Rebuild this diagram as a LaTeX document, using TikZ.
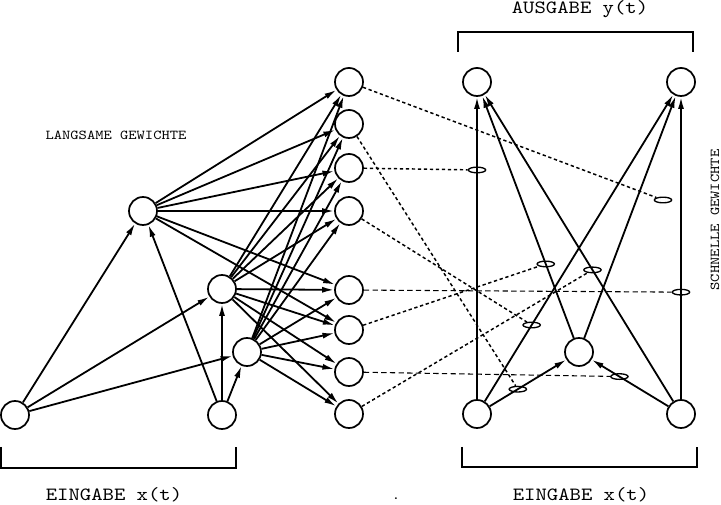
\documentclass[tikz,border=0pt]{standalone}
\usepackage{fontspec}
\setmonofont{lmmono10-regular.otf}[FakeStretch=1.16]
\usetikzlibrary{arrows.meta,shapes.geometric,calc}
\begin{document}
\begin{tikzpicture}[x=0.75pt,y=-0.75pt,
  neuron/.style={circle,draw,line width=1.3pt,minimum size=21pt,inner sep=0pt},
  conn/.style={line width=1.35pt,-{Latex[length=9pt,width=4.5pt]}},
  fw/.style={ellipse,draw,line width=1pt,minimum width=13pt,minimum height=4.2pt,inner sep=0pt},
  dotl/.style={line width=1.1pt,dash pattern=on 2.5pt off 2pt},
  dashl/.style={line width=0.8pt,dash pattern=on 4pt off 2.5pt},
  brack/.style={line width=0.8pt},
  big/.style={font=\ttfamily\fontsize{14}{16}\selectfont,inner sep=0pt},
  small/.style={font=\ttfamily\fontsize{10.2}{12}\selectfont,inner sep=0pt}]
\useasboundingbox (0,0) rectangle (721,505);

% left (slow) network
\node[neuron] (i1) at (15,415) {};
\node[neuron] (i2) at (222,415) {};
\node[neuron] (h1) at (143,211) {};
\node[neuron] (h2) at (222,289) {};
\node[neuron] (h3) at (247,352) {};
\node[neuron] (m1) at (349,82) {};
\node[neuron] (m2) at (349,124) {};
\node[neuron] (m3) at (349,168) {};
\node[neuron] (m4) at (349,211) {};
\node[neuron] (m5) at (349,290) {};
\node[neuron] (m6) at (349,330) {};
\node[neuron] (m7) at (349,372) {};
\node[neuron] (m8) at (349,414) {};

% right (fast) network
\node[neuron] (o1) at (477,82) {};
\node[neuron] (o2) at (681,82) {};
\node[neuron] (n1) at (477,414) {};
\node[neuron] (n2) at (681,414) {};
\node[neuron] (r) at (579,352) {};

% slow connections
\foreach \s in {i1,i2} {
  \draw[conn] (\s) -- (h1);
  \draw[conn] (\s) -- (h2);
  \draw[conn] (\s) -- (h3);
}
\foreach \i in {1,...,6} \draw[conn] (h1) -- (m\i);
\foreach \i in {1,...,8} {
  \draw[conn] (h2) -- (m\i);
  \draw[conn] (h3) -- (m\i);
}

% fast connections
\draw[conn] (n1) -- (o1);
\draw[conn] (n1) -- (o2);
\draw[conn] (n1) -- (r);
\draw[conn] (n2) -- (o1);
\draw[conn] (n2) -- (o2);
\draw[conn] (n2) -- (r);
\draw[conn] (r) -- (o1);
\draw[conn] (r) -- (o2);

% fast weights (ellipses)
\node[fw] (e1) at ($(n1)!0.735!(o1)$) {};
\node[fw] (e2) at ($(n2)!0.367!(o2)$) {};
\node[fw] (e3) at ($(n2)!0.604!(r)$) {};
\node[fw] (e4) at ($(n1)!0.40!(r)$) {};
\node[fw] (e5) at ($(n1)!0.268!(o2)$) {};
\node[fw] (e6) at ($(r)!0.326!(o1)$) {};
\node[fw] (e7) at ($(n2)!0.434!(o1)$) {};
\node[fw] (e8) at (663,200) {};

\draw[dotl] (m1) -- (e8);
\draw[dotl] (m2) -- (e4);
\draw[dotl] (m3) -- (e1);
\draw[dotl] (m4) -- (e5);
\draw[dashl] (m5) -- (e2);
\draw[dotl] (m6) -- (e6);
\draw[dashl] (m7) -- (e3);
\draw[dotl] (m8) -- (e7);

% brackets
\draw[brack] (458,52) -- (458,32) -- (693,32) -- (693,52);
\draw[brack] (1,447) -- (1,468) -- (236,468) -- (236,447);
\draw[brack] (462,447) -- (462,467) -- (697,467) -- (697,447);

% labels
\node[big,anchor=base] (tout) at (580,14) {AUSGABE y(t)};
\node[big,anchor=base] (tinl) at (114,501) {EINGABE x(t)};
\node[big,anchor=base] (tinr) at (581,501) {EINGABE x(t)};
\node[small,anchor=base] (tslow) at (116,140) {LANGSAME GEWICHTE};
\node[small,rotate=90] (tfast) at (715,220) {SCHNELLE GEWICHTE};
\node[small,anchor=base] (tdot) at (396,499) {.};
\end{tikzpicture}
\end{document}
